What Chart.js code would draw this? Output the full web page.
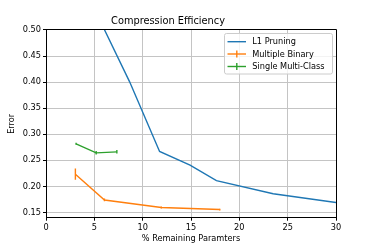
<!DOCTYPE html>
<html><head><meta charset="utf-8">
<script src="https://cdn.jsdelivr.net/npm/chart.js@4/dist/chart.umd.min.js"></script>
<style>html,body{margin:0;padding:0;background:#fff}#wrap{width:374px;height:249px}</style>
</head><body><div id="wrap"><canvas id="c" width="374" height="249"></canvas></div>
<script>
const l1X = [4.6, 8.64, 11.75, 14.9, 17.63, 23.5, 30.0];
const l1Y = [0.556, 0.401, 0.267, 0.241, 0.211, 0.186, 0.169];
const binX = [3.04, 6.05, 11.93, 17.98];
const binY = [0.2235, 0.174, 0.1596, 0.1556];
const binErr = [0.0096, 0.0015, 0.0008, 0.0006];
const mcX = [3.11, 5.19, 7.33];
const mcY = [0.2816, 0.2644, 0.2663];
const mcErr = [0.0008, 0.0022, 0.0022];
const xTicks = [0, 5, 10, 15, 20, 25, 30];
const yTicks = [0.15, 0.20, 0.25, 0.30, 0.35, 0.40, 0.45, 0.50];
const labels = ['L1 Pruning', 'Multiple Binary', 'Single Multi-Class'];
const colors = ['#1f77b4', '#ff7f0e', '#2ca02c'];
const FONT = 'DejaVu Sans';

function pts(xs, ys){ return xs.map((x,i)=>({x:x, y:ys[i]})); }
function al(p){ return Math.round(p - 0.5) + 0.5; }

const errPlugin = {
  id: 'errbars',
  afterDatasetsDraw(chart){
    const ctx = chart.ctx, xs = chart.scales.x, ys = chart.scales.y;
    const sets = [[binX, binY, binErr, colors[1]], [mcX, mcY, mcErr, colors[2]]];
    ctx.save();
    ctx.beginPath();
    ctx.rect(chart.chartArea.left, chart.chartArea.top, chart.chartArea.width, chart.chartArea.height);
    ctx.clip();
    ctx.lineWidth = 1.4;
    sets.forEach(([X, Y, E, c]) => {
      ctx.strokeStyle = c;
      X.forEach((x, i) => {
        const px = xs.getPixelForValue(x);
        ctx.beginPath();
        ctx.moveTo(px, ys.getPixelForValue(Y[i] - E[i]) + 0.6);
        ctx.lineTo(px, ys.getPixelForValue(Y[i] + E[i]) - 0.6);
        ctx.stroke();
      });
    });
    ctx.restore();
  }
};

const framePlugin = {
  id: 'frame',
  afterDraw(chart){
    const ctx = chart.ctx, a = chart.chartArea;
    ctx.save();
    ctx.strokeStyle = '#000';
    ctx.lineWidth = 1;
    const L = al(a.left), R = al(a.right), T = al(a.top), B = al(a.bottom);
    ctx.beginPath();
    ctx.moveTo(L, T); ctx.lineTo(R, T); ctx.lineTo(R, B);
    ctx.stroke();
    // legend
    const lx = 224.5, ly = 33.5, lw = 108, lh = 40.5;
    ctx.fillStyle = 'rgba(255,255,255,0.8)';
    ctx.strokeStyle = '#cccccc';
    ctx.beginPath();
    ctx.roundRect(lx, ly, lw, lh, 2);
    ctx.fill();
    ctx.stroke();
    const rows = [41.7, 54, 66.5];
    ctx.font = '8.2px "' + FONT + '"';
    ctx.textBaseline = 'middle';
    ctx.textAlign = 'left';
    labels.forEach((lab, i) => {
      const y = rows[i];
      ctx.strokeStyle = colors[i];
      ctx.lineWidth = 1.4;
      ctx.beginPath();
      ctx.moveTo(227.5, y); ctx.lineTo(246, y);
      ctx.stroke();
      if (i > 0) {
        ctx.beginPath();
        ctx.moveTo(236.8, y - 3.4); ctx.lineTo(236.8, y + 3.4);
        ctx.stroke();
      }
      ctx.fillStyle = '#000';
      ctx.fillText(lab, 252.3, y + 0.5);
    });
    ctx.restore();
  }
};

new Chart(document.getElementById('c'), {
  type: 'scatter',
  data: {
    datasets: [
      { label: labels[0], data: pts(l1X, l1Y), borderColor: colors[0], backgroundColor: colors[0], showLine: true, pointRadius: 0, borderWidth: 1.4, tension: 0 },
      { label: labels[1], data: pts(binX, binY), borderColor: colors[1], backgroundColor: colors[1], showLine: true, pointRadius: 0, borderWidth: 1.4, tension: 0 },
      { label: labels[2], data: pts(mcX, mcY), borderColor: colors[2], backgroundColor: colors[2], showLine: true, pointRadius: 0, borderWidth: 1.4, tension: 0 }
    ]
  },
  options: {
    responsive: false,
    animation: false,
    devicePixelRatio: 1,
    layout: { padding: { left: 0, right: 38, top: 0, bottom: 0 } },
    plugins: {
      legend: { display: false },
      tooltip: { enabled: false },
      title: { display: true, text: 'Compression Efficiency', color: '#000', font: { family: FONT, size: 9.8, weight: 'normal' }, padding: { top: 15.1, bottom: 3.1 } }
    },
    scales: {
      x: {
        type: 'linear', min: 0, max: 30,
        afterBuildTicks(s){ s.ticks = xTicks.map(v => ({ value: v })); },
        afterFit(s){ s.height = 31.3; },
        grid: { color: '#c4c4c4', lineWidth: 1, tickColor: '#000', tickLength: 3, drawTicks: true },
        border: { color: '#000', width: 1 },
        ticks: { color: '#000', font: { family: FONT, size: 8.2 }, padding: 2, maxRotation: 0 },
        title: { display: true, text: '% Remaining Paramters', color: '#000', font: { family: FONT, size: 8.2 }, padding: { top: 0, bottom: 4.8 } }
      },
      y: {
        type: 'linear', min: 0.14, max: 0.5,
        afterBuildTicks(s){ s.ticks = yTicks.map(v => ({ value: v })); },
        afterFit(s){ s.width = 46; },
        grid: { color: '#c4c4c4', lineWidth: 1, tickColor: '#000', tickLength: 3, drawTicks: true },
        border: { color: '#000', width: 1 },
        ticks: { color: '#000', font: { family: FONT, size: 8.2 }, padding: 2, callback: v => Number(v).toFixed(2) },
        title: { display: true, text: 'Error', color: '#000', font: { family: FONT, size: 8.2 }, padding: { top: 7.4, bottom: 0 } }
      }
    }
  },
  plugins: [errPlugin, framePlugin]
});
</script></body></html>
